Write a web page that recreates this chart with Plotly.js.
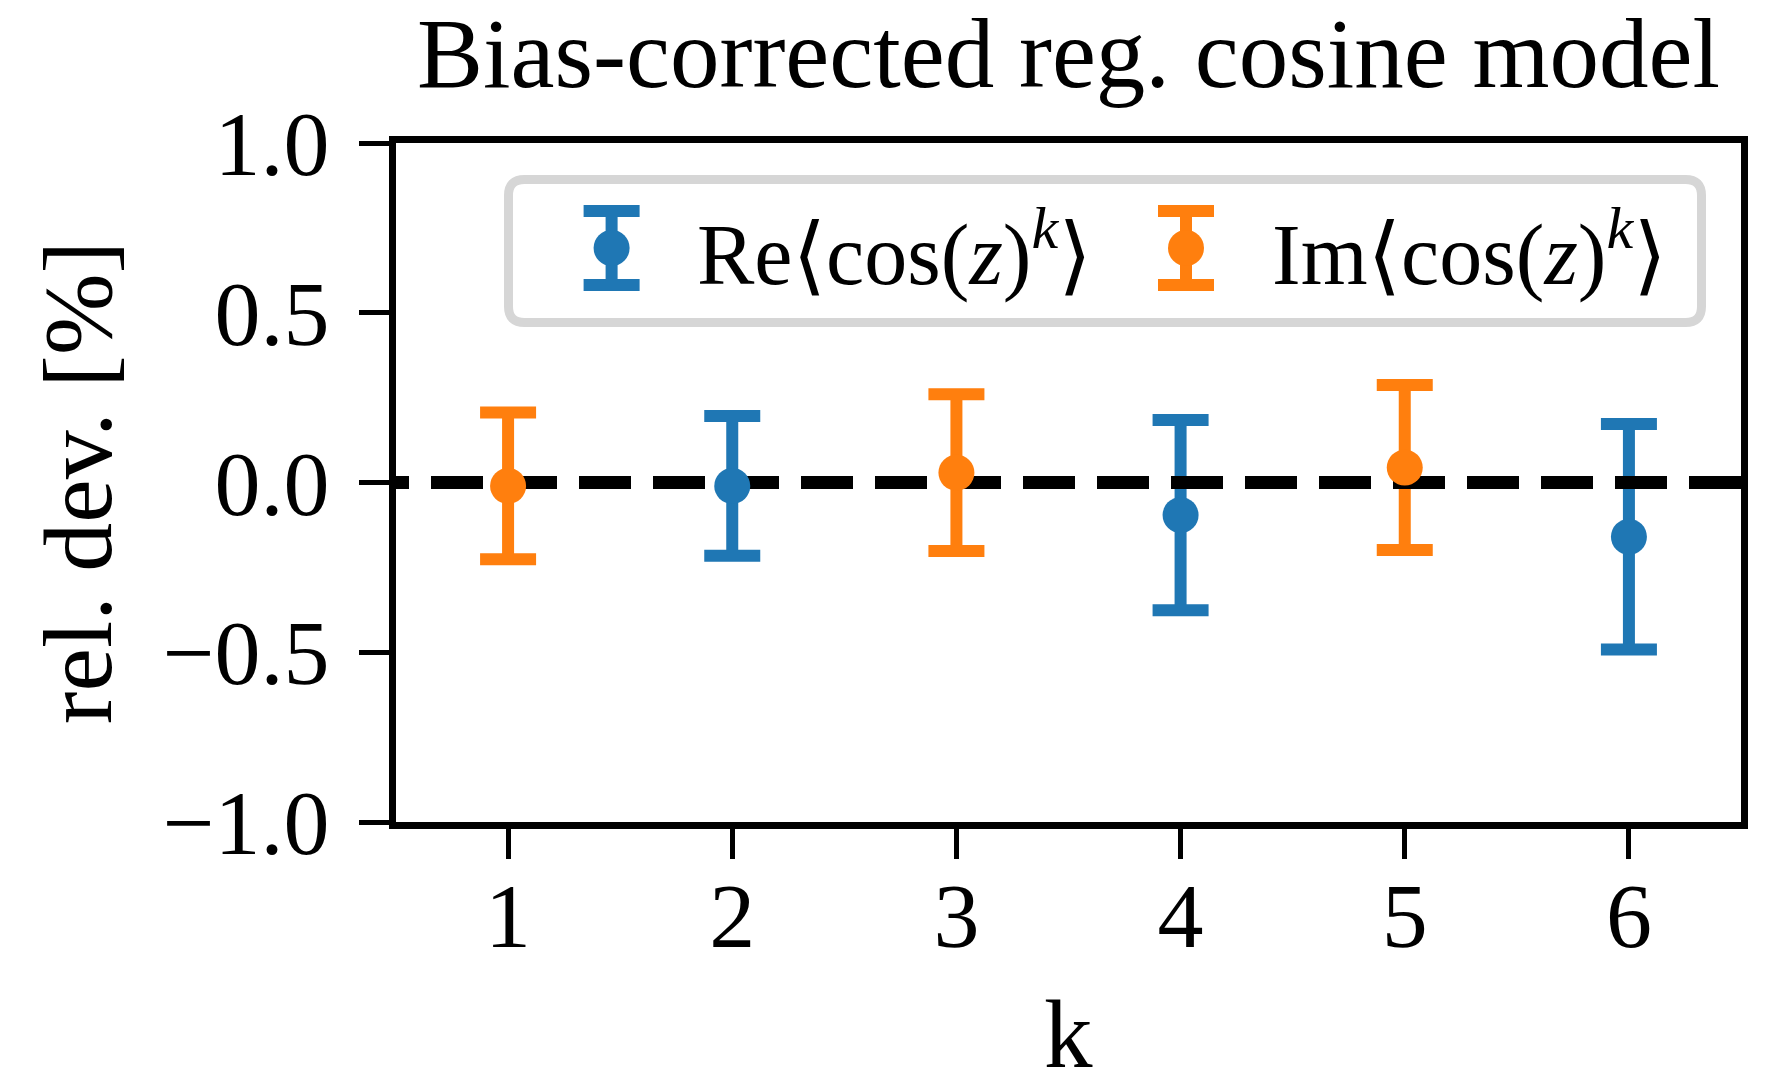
<!DOCTYPE html>
<html>
<head>
<meta charset="utf-8">
<script src="https://cdn.plot.ly/plotly-3.0.1.min.js"></script>
<style>
  html, body { margin: 0; padding: 0; background: #ffffff; }
  #chart { width: 1784px; height: 1073px; }
</style>
</head>
<body>
<div id="chart"></div>
<script>
// Relative deviation of the bias-corrected regularised cosine model, per moment k
const kValues = [1, 2, 3, 4, 5, 6];
const kTickText = ['1', '2', '3', '4', '5', '6'];

// Real part (even k) and imaginary part (odd k)
const reK = [2, 4, 6];
const reDev = [-0.010, -0.096, -0.160];
const reErr = [0.206, 0.280, 0.332];

const imK = [1, 3, 5];
const imDev = [-0.010, 0.029, 0.044];
const imErr = [0.216, 0.231, 0.243];

const yTickVals = [-1.0, -0.5, 0.0, 0.5, 1.0];
const yTickText = ['\u22121.0', '\u22120.5', '0.0', '0.5', '1.0'];

const seriesNames = ['Re\u27E8cos(<i>z</i>)<sup><i>k</i></sup>\u27E9',
                     'Im\u27E8cos(<i>z</i>)<sup><i>k</i></sup>\u27E9'];

const BLUE = '#1f77b4';
const ORANGE = '#ff7f0e';
const FONT = '"Liberation Serif", "DejaVu Serif", serif';

// Figure geometry (px)
const W = 1784, H = 1073;
const M = { l: 396, r: 43, t: 143, b: 251 };
const plotW = W - M.l - M.r;
const plotH = H - M.t - M.b;
const toPaperX = px => (px - M.l) / plotW;
const toPaperY = py => (H - M.b - py) / plotH;

const xRange = [0.5, 6.5];
const yRange = [-1.0, 1.0];

const errStyle = (vals, color) => ({
  type: 'data', array: vals, visible: true,
  color: color, thickness: 12, width: 28
});

// Error bars first, then the zero reference line, then the markers on top
const reBars = {
  x: reK, y: reDev, type: 'scatter', mode: 'markers',
  marker: { size: 36, color: 'rgba(0,0,0,0)' },
  error_y: errStyle(reErr, BLUE), showlegend: false, hoverinfo: 'skip'
};
const imBars = {
  x: imK, y: imDev, type: 'scatter', mode: 'markers',
  marker: { size: 36, color: 'rgba(0,0,0,0)' },
  error_y: errStyle(imErr, ORANGE), showlegend: false, hoverinfo: 'skip'
};

// Dash phase: the pattern starts a little left of the frame
const dashPhase = 39 / (plotW / (xRange[1] - xRange[0]));
const zeroLine = {
  x: [xRange[0] - dashPhase, xRange[1] + 0.2], y: [0, 0],
  type: 'scatter', mode: 'lines',
  line: { color: '#000000', width: 13, dash: '52px,22px' },
  showlegend: false, hoverinfo: 'skip'
};

const reDots = {
  x: reK, y: reDev, type: 'scatter', mode: 'markers', name: seriesNames[0],
  marker: { size: 36, color: BLUE }, cliponaxis: false, showlegend: false
};
const imDots = {
  x: imK, y: imDev, type: 'scatter', mode: 'markers', name: seriesNames[1],
  marker: { size: 36, color: ORANGE }, cliponaxis: false, showlegend: false
};

// Legend box (rounded frame) and its keys, drawn in a small inset axis measured in px
const box = { x0: 504, x1: 1706, y0: 175, y1: 327 };
const bw = 9, rad = 16;
const bx0 = box.x0 + bw / 2, bx1 = box.x1 - bw / 2;
const by0 = box.y0 + bw / 2, by1 = box.y1 - bw / 2;
const P = (x, y) => toPaperX(x).toFixed(5) + ',' + toPaperY(y).toFixed(5);
const framePath =
  'M' + P(bx0 + rad, by0) + ' L' + P(bx1 - rad, by0) + ' Q' + P(bx1, by0) + ' ' + P(bx1, by0 + rad) +
  ' L' + P(bx1, by1 - rad) + ' Q' + P(bx1, by1) + ' ' + P(bx1 - rad, by1) +
  ' L' + P(bx0 + rad, by1) + ' Q' + P(bx0, by1) + ' ' + P(bx0, by1 - rad) +
  ' L' + P(bx0, by0 + rad) + ' Q' + P(bx0, by0) + ' ' + P(bx0 + rad, by0) + ' Z';

const boxW = box.x1 - box.x0, boxH = box.y1 - box.y0;
const keyY = box.y1 - 248;
const keyHalf = 37;
const keyX = [611.6 - box.x0, 1186 - box.x0];
const labelX = [695 - box.x0, 1269.5 - box.x0];

const reKey = {
  x: [keyX[0]], y: [keyY], xaxis: 'x2', yaxis: 'y2', type: 'scatter', mode: 'markers',
  marker: { size: 36, color: BLUE }, error_y: errStyle([keyHalf], BLUE),
  showlegend: false, hoverinfo: 'skip', cliponaxis: false
};
const imKey = {
  x: [keyX[1]], y: [keyY], xaxis: 'x2', yaxis: 'y2', type: 'scatter', mode: 'markers',
  marker: { size: 36, color: ORANGE }, error_y: errStyle([keyHalf], ORANGE),
  showlegend: false, hoverinfo: 'skip', cliponaxis: false
};

const axisCommon = {
  showline: true, linecolor: '#000000', linewidth: 7, mirror: true,
  ticks: 'outside', ticklen: 30, tickwidth: 5, tickcolor: '#000000',
  showgrid: false, zeroline: false, fixedrange: true,
  tickfont: { family: FONT, size: 92, color: '#000000' }
};

const legendLabels = [0, 1].map(i => ({
  xref: 'x2', yref: 'y2', x: labelX[i], y: keyY,
  xanchor: 'left', yanchor: 'middle', showarrow: false,
  text: seriesNames[i],
  font: { family: FONT, size: 86, color: '#000000' }
}));

// x-axis label sits low, close to the bottom edge of the figure
const xLabel = {
  xref: 'paper', yref: 'paper', x: 0.5, y: toPaperY(979),
  xanchor: 'center', yanchor: 'top', showarrow: false,
  text: 'k', font: { family: FONT, size: 97, color: '#000000' }
};

const layout = {
  width: W, height: H,
  margin: M,
  paper_bgcolor: '#ffffff', plot_bgcolor: '#ffffff',
  showlegend: false,
  font: { family: FONT, color: '#000000' },
  title: {
    text: 'Bias-corrected reg. cosine model',
    font: { family: FONT, size: 99, color: '#000000' },
    x: 0.5, xref: 'paper', xanchor: 'center',
    y: 1 - 52 / H, yref: 'container', yanchor: 'middle'
  },
  xaxis: Object.assign({}, axisCommon, {
    range: xRange, tickmode: 'array', tickvals: kValues, ticktext: kTickText,
    ticklabelstandoff: -22
  }),
  yaxis: Object.assign({}, axisCommon, {
    range: yRange, tickmode: 'array', tickvals: yTickVals, ticktext: yTickText,
    ticklabelstandoff: 11,
    title: { text: 'rel. dev. [%]', font: { family: FONT, size: 98, color: '#000000' }, standoff: 21 }
  }),
  xaxis2: {
    domain: [toPaperX(box.x0), toPaperX(box.x1)], range: [0, boxW],
    anchor: 'y2', visible: false, fixedrange: true
  },
  yaxis2: {
    domain: [toPaperY(box.y1), toPaperY(box.y0)], range: [0, boxH],
    anchor: 'x2', visible: false, fixedrange: true
  },
  shapes: [{
    type: 'path', xref: 'paper', yref: 'paper', path: framePath,
    line: { color: '#d6d6d6', width: bw }, fillcolor: 'rgba(0,0,0,0)', layer: 'above'
  }],
  annotations: legendLabels.concat([xLabel])
};

Plotly.newPlot('chart', [reBars, imBars, zeroLine, reDots, imDots, reKey, imKey], layout,
  { staticPlot: true, displayModeBar: false });
</script>
</body>
</html>
